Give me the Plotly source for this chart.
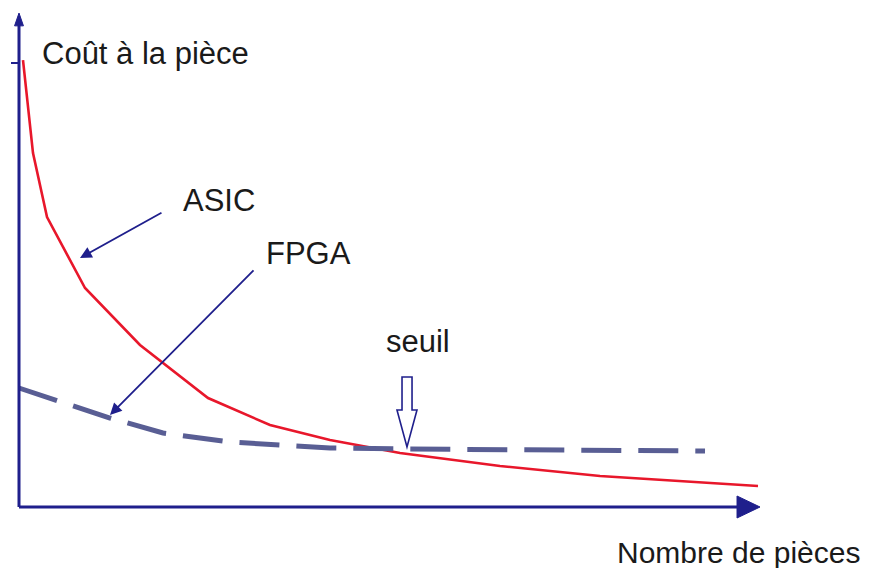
import plotly.graph_objects as go

# Data (arbitrary units: x = nombre de pièces, y = coût à la pièce)
asic_x = [0.54, 1.89, 3.78, 8.91, 16.33, 25.51, 33.87, 41.97, 51.42, 64.91, 78.41, 91.90, 99.73]
asic_y = [90.67, 71.8, 58.8, 44.42, 32.86, 22.11, 16.63, 13.59, 10.95, 8.32, 6.29, 5.07, 4.26]
fpga_x = [0.0, 12.28, 19.43, 28.48, 41.97, 52.77, 92.58]
fpga_y = [24.14, 18.05, 15.01, 13.18, 11.97, 11.76, 11.36]
seuil_x = 52.36
seuil_y = 12.17

X_MAX, Y_MAX = 100.0, 100.2
NAVY = "#1f1f8c"
RED = "#e8172b"
SLATE = "#595e94"
FONT = "Liberation Sans, Arial, sans-serif"

fig = go.Figure()
fig.add_trace(go.Scatter(x=asic_x, y=asic_y, mode="lines",
                         line=dict(color=RED, width=2.6), hoverinfo="skip"))
fig.add_trace(go.Scatter(x=fpga_x, y=fpga_y, mode="lines",
                         line=dict(color=SLATE, width=5, dash="40px,17px"), hoverinfo="skip"))

shapes = []
# axes lines
shapes.append(dict(type="line", x0=0, y0=0, x1=97.5, y1=0, line=dict(color=NAVY, width=3)))
shapes.append(dict(type="line", x0=0, y0=0, x1=0, y1=98.5, line=dict(color=NAVY, width=3)))
# arrow heads of axes
shapes.append(dict(type="path", path=f"M {X_MAX},0 L 96.9,2.23 L 96.9,-2.23 Z",
                   fillcolor=NAVY, line=dict(color=NAVY, width=1)))
shapes.append(dict(type="path", path=f"M 0,{Y_MAX} L 0.6,97.6 L -0.6,97.6 Z",
                   fillcolor=NAVY, line=dict(color=NAVY, width=1)))
# tick on y axis
shapes.append(dict(type="line", x0=-1.08, y0=90.06, x1=0, y1=90.06, line=dict(color=NAVY, width=2)))
# hollow "seuil" arrow
sx, sy = seuil_x, seuil_y
p = (f"M {sx-0.67},{sy+14.2} L {sx+0.68},{sy+14.2} L {sx+0.68},{sy+7.51} "
     f"L {sx+1.35},{sy+7.51} L {sx},{sy} L {sx-1.35},{sy+7.51} L {sx-0.67},{sy+7.51} Z")
shapes.append(dict(type="path", path=p, fillcolor="white", line=dict(color=NAVY, width=1.6)))

annotations = []
# pointer arrows
annotations.append(dict(x=8.23, y=50.51, ax=19.43, ay=59.84, xref="x", yref="y", axref="x", ayref="y",
                        text="", showarrow=True, arrowhead=2, arrowsize=1.3, arrowwidth=1.8, arrowcolor=NAVY))
annotations.append(dict(x=12.28, y=18.66, ax=31.85, ay=48.28, xref="x", yref="y", axref="x", ayref="y",
                        text="", showarrow=True, arrowhead=2, arrowsize=1.3, arrowwidth=1.8, arrowcolor=NAVY))
# texts
def txt(t, x, y, anchor="left", xref="x", yref="y", size=31):
    return dict(x=x, y=y, xref=xref, yref=yref, text=t, showarrow=False, xanchor=anchor, yanchor="middle",
                font=dict(family=FONT, size=size, color="#1a1a1a"))

annotations.append(txt("Coût à la pièce", 2.9, 92.0))
annotations.append(txt("ASIC", 21.9, 62.2))
annotations.append(txt("FPGA", 33.0, 51.4))
annotations.append(txt("seuil", 49.3, 33.6))
annotations.append(txt("Nombre de pièces", 0.709, -0.024, xref="paper", yref="paper", size=30))

fig.update_layout(
    width=869, height=568,
    margin=dict(l=5, r=4, t=5, b=28),
    paper_bgcolor="white", plot_bgcolor="white",
    showlegend=False,
    xaxis=dict(range=[-1.889, 114.17], visible=False),
    yaxis=dict(range=[-6.694, 101.83], visible=False),
    shapes=shapes,
    annotations=annotations,
)
fig.write_html("out.html", config={"displayModeBar": False},
               post_script="document.body.style.margin='0';")
